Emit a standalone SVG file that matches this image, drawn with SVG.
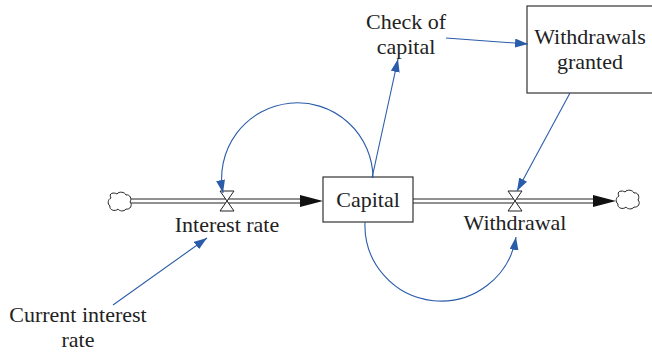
<svg xmlns="http://www.w3.org/2000/svg" width="652" height="352" viewBox="0 0 652 352">
<style>
text{font-family:"Liberation Serif","Times New Roman",serif;font-size:22px;fill:#222;text-anchor:middle}
.box{fill:#fff;stroke:#333;stroke-width:1.2}
.pipe{stroke:#222;stroke-width:1.2;fill:none}
.valve{fill:#fff;stroke:#222;stroke-width:1}
.cloud{fill:#fff;stroke:#222;stroke-width:1}
.link{fill:none;stroke:#2a5caa;stroke-width:1.1}
.flowhead{fill:#111}
</style>
<defs>
<marker id="ah" markerUnits="userSpaceOnUse" markerWidth="14" markerHeight="10" refX="13" refY="4.5" orient="auto">
<path d="M0,0 L13,4.5 L0,9 z" fill="#2a5caa"/>
</marker>
<path id="cl" d="M-9,-4 C-12,-9 -6,-10 -3,-8 C-1,-11 5,-10 6,-7 C10,-8 12,-3 10,0 C13,3 10,8 6,7 C4,10 -1,9 -2,7 C-5,10 -11,8 -10,4 C-13,2 -12,-3 -9,-4 Z"/>
</defs>

<g id="flows">
<line class="pipe" x1="131" y1="199" x2="302" y2="199"/>
<line class="pipe" x1="131" y1="203" x2="302" y2="203"/>
<polygon class="flowhead" points="323,201 300,195 300,207"/>
<line class="pipe" x1="413" y1="199" x2="595" y2="199"/>
<line class="pipe" x1="413" y1="203" x2="595" y2="203"/>
<polygon class="flowhead" points="616,201 593,195 593,207"/>
</g>

<g id="source-cloud"><use href="#cl" class="cloud" transform="translate(120,202)"/></g>
<g id="sink-cloud"><use href="#cl" class="cloud" transform="translate(628,200)"/></g>

<g id="capital">
<rect class="box" x="323" y="177" width="90" height="45"/>
<text x="368" y="207">Capital</text>
</g>

<g id="interest-rate">
<polygon class="valve" points="220,191 234,191 220,211 234,211"/>
<text x="227" y="232">Interest rate</text>
</g>

<g id="withdrawal">
<polygon class="valve" points="508,191 522,191 508,211 522,211"/>
<text x="515" y="230">Withdrawal</text>
</g>

<g id="withdrawals-granted">
<rect class="box" x="527" y="6" width="130" height="87"/>
<text x="590" y="44">Withdrawals</text>
<text x="590" y="69">granted</text>
</g>

<g id="check-of-capital">
<text x="406" y="29">Check of</text>
<text x="406" y="54">capital</text>
</g>

<g id="current-interest-rate">
<text x="78" y="322">Current interest</text>
<text x="78" y="347">rate</text>
</g>

<g id="connectors">
<path class="link" d="M373,178 A75.7,75.7 0 1 0 223,193" marker-end="url(#ah)"/>
<path class="link" d="M365,222 A76,76 0 0 0 516,237" marker-end="url(#ah)"/>
<line class="link" x1="372" y1="178" x2="398" y2="59" marker-end="url(#ah)"/>
<line class="link" x1="446" y1="38" x2="528" y2="44" marker-end="url(#ah)"/>
<line class="link" x1="570" y1="93" x2="517" y2="191" marker-end="url(#ah)"/>
<line class="link" x1="113" y1="305" x2="207" y2="238" marker-end="url(#ah)"/>
</g>
</svg>
